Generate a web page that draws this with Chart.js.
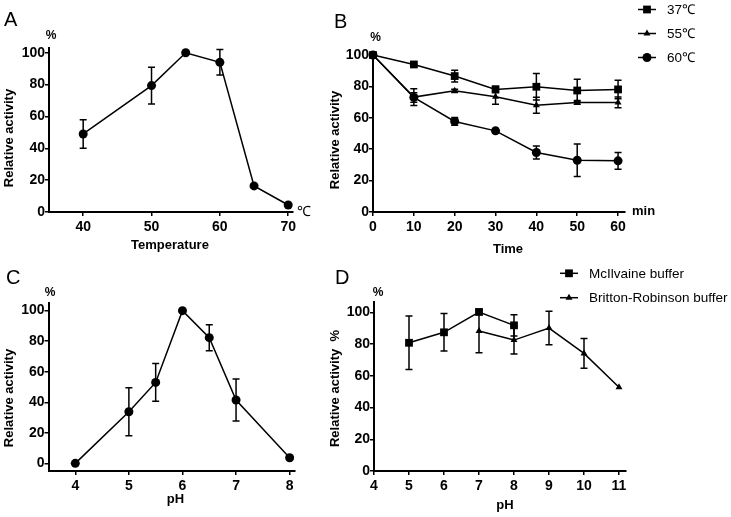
<!DOCTYPE html>
<html lang="en">
<head>
<meta charset="UTF-8">
<title>Relative activity</title>
<script src="https://cdn.jsdelivr.net/npm/chart.js"></script>
<style>
  body { margin: 0; background: #fff; }
  #wrap { position: relative; width: 731px; height: 517px; }
  canvas { position: absolute; }
</style>
</head>
<body>
<div id="wrap">
  <canvas id="chartA" width="320" height="258" style="left:0;top:0"></canvas>
  <canvas id="chartB" width="411" height="258" style="left:320px;top:0"></canvas>
  <canvas id="chartC" width="320" height="259" style="left:0;top:258px"></canvas>
  <canvas id="chartD" width="411" height="259" style="left:320px;top:258px"></canvas>
</div>
<script>
// A: temperature optimum
const tempA = [40, 50, 55, 60, 65, 70];
const actA = [49, 79.4, 100, 94, 16.4, 4.4];
const errA = [9, 11.5, 0, 8, 0, 0];
const tempTicks = [40, 50, 60, 70];

// B: thermostability over time
const timeB = [0, 10, 20, 30, 40, 50, 60];
const act37 = [100, 94, 86.6, 78.1, 79.8, 77.4, 78.1];
const err37 = [0, 1.5, 3.7, 2, 8.5, 7.2, 5.9];
const act55 = [100, 73.2, 77.2, 73.4, 68, 69.8, 69.8];
const err55 = [0, 5.3, 1, 4.8, 5.1, 1.2, 3.4];
const act60 = [100, 73, 57.7, 51.7, 37.9, 33, 32.6];
const err60 = [0, 3, 2.5, 1.5, 4.2, 10.4, 5.3];
const timeTicks = [0, 10, 20, 30, 40, 50, 60];

// C: pH optimum
const phC = [4, 5, 5.5, 6, 6.5, 7, 8];
const actC = [0, 33.8, 53, 100, 82.3, 41.5, 3.7];
const errC = [0, 15.7, 12.4, 0, 8.5, 13.7, 0];
const phTicksC = [4, 5, 6, 7, 8];

// D: pH stability in two buffers
const phMc = [5, 6, 7, 8];
const actMc = [80.8, 87.4, 100.2, 91.8];
const errMc = [16.8, 11.8, 1, 6.7];
const phBR = [7, 8, 9, 10, 11];
const actBR = [88.2, 82.5, 90.1, 74.1, 52.8];
const errBR = [13.7, 8.8, 10.6, 9.4, 0];
const phTicksD = [4, 5, 6, 7, 8, 9, 10, 11];

const pctTicks = [0, 20, 40, 60, 80, 100];

const FONT = '"Liberation Sans", Arial, sans-serif';
const BOLD13 = 'bold 13px ' + FONT;

function drawMarker(ctx, style, r, x, y) {
  if (Chart.helpers && Chart.helpers.drawPoint) {
    Chart.helpers.drawPoint(ctx, { pointStyle: style, radius: r, rotation: 0, borderWidth: 0 }, x, y);
    return;
  }
  ctx.beginPath();
  ctx.arc(x, y, r, 0, Math.PI * 2);
  ctx.fill();
}

const errorBars = {
  id: 'errorBars',
  beforeDatasetsDraw(chart) {
    const ctx = chart.ctx, xs = chart.scales.x, ys = chart.scales.y;
    ctx.save();
    ctx.strokeStyle = '#000';
    ctx.lineWidth = 1.5;
    chart.data.datasets.forEach(ds => {
      if (!ds.errors) return;
      ds.data.forEach((p, i) => {
        const e = ds.errors[i];
        if (!e) return;
        const px = xs.getPixelForValue(p.x);
        const top = ys.getPixelForValue(p.y + e);
        const bot = ys.getPixelForValue(p.y - e);
        ctx.beginPath();
        ctx.moveTo(px, top); ctx.lineTo(px, bot);
        ctx.moveTo(px - 3.5, top); ctx.lineTo(px + 3.5, top);
        ctx.moveTo(px - 3.5, bot); ctx.lineTo(px + 3.5, bot);
        ctx.stroke();
      });
    });
    ctx.restore();
  }
};

const panelText = {
  id: 'panelText',
  afterDraw(chart, args, opts) {
    const ctx = chart.ctx;
    (opts.items || []).forEach(t => {
      ctx.save();
      ctx.font = t.font;
      ctx.fillStyle = '#000';
      ctx.textAlign = t.align || 'center';
      ctx.textBaseline = t.baseline || 'middle';
      ctx.translate(t.x, t.y);
      if (t.rotate) ctx.rotate(t.rotate);
      ctx.fillText(t.text, 0, 0);
      ctx.restore();
    });
    const lg = opts.legend;
    if (lg) {
      chart.data.datasets.forEach((ds, i) => {
        const y = lg.y + i * lg.dy;
        ctx.save();
        ctx.strokeStyle = '#000';
        ctx.fillStyle = '#000';
        ctx.lineWidth = 1.5;
        ctx.beginPath();
        ctx.moveTo(lg.x, y); ctx.lineTo(lg.x + 18, y);
        ctx.stroke();
        drawMarker(ctx, ds.pointStyle, ds.pointRadius, lg.x + 9, y);
        ctx.font = '13.5px ' + FONT;
        ctx.textAlign = 'left';
        ctx.textBaseline = 'middle';
        ctx.fillText(ds.label, lg.x + 29, y + 0.5);
        ctx.restore();
      });
    }
  }
};

function axis(pos, range, tickVals, size) {
  return {
    type: 'linear',
    position: pos,
    min: range[0],
    max: range[1],
    grid: { drawOnChartArea: false, color: '#000', lineWidth: 1.5, tickLength: 4 },
    border: { color: '#000', width: 2 },
    ticks: {
      color: '#000',
      font: { family: FONT, size: 14, weight: 'bold' },
      padding: pos === 'left' ? 0 : 3,
      autoSkip: false,
      maxRotation: 0
    },
    afterBuildTicks: s => { s.ticks = tickVals.map(v => ({ value: v })); },
    afterFit: s => { if (pos === 'left') s.width = size; else s.height = size; }
  };
}

function series(label, xs, ys, errs, style, r) {
  return {
    label: label,
    data: xs.map((x, i) => ({ x: x, y: ys[i] })),
    errors: errs,
    showLine: true,
    borderColor: '#000',
    backgroundColor: '#000',
    borderWidth: 1.5,
    pointStyle: style,
    pointRadius: r,
    pointBorderWidth: 0,
    pointHoverRadius: r,
    clip: false
  };
}

function makeChart(id, datasets, xr, xt, yr, yw, pad, texts, legend) {
  new Chart(document.getElementById(id), {
    type: 'scatter',
    data: { datasets: datasets },
    options: {
      responsive: false,
      animation: false,
      layout: { padding: { left: 0, top: pad.top, right: pad.right, bottom: 0 } },
      scales: {
        x: axis('bottom', xr, xt, pad.xh),
        y: axis('left', yr, pctTicks, yw)
      },
      plugins: {
        legend: { display: false },
        tooltip: { enabled: false },
        panelText: { items: texts, legend: legend }
      }
    },
    plugins: [errorBars, panelText]
  });
}

makeChart('chartA',
  [series('A', tempA, actA, errA, 'circle', 4.5)],
  [35, 70.7], tempTicks, [0, 103], 49, { top: 48, right: 27, xh: 46 },
  [
    { text: 'A', x: 4, y: 25.5, font: '20px ' + FONT, align: 'left', baseline: 'alphabetic' },
    { text: '%', x: 51, y: 36, font: 'bold 12px ' + FONT },
    { text: '℃', x: 297, y: 212, font: '14px ' + FONT, align: 'left' },
    { text: 'Relative activity', x: 9.5, y: 138, font: BOLD13, rotate: -Math.PI / 2 },
    { text: 'Temperature', x: 170, y: 245, font: BOLD13 }
  ]);

makeChart('chartB',
  [
    series('37℃', timeB, act37, err37, 'rect', 5.5),
    series('55℃', timeB, act55, err55, 'triangle', 4),
    series('60℃', timeB, act60, err60, 'circle', 4.5)
  ],
  [0, 61.7], timeTicks, [0, 101.3], 53, { top: 53, right: 106, xh: 46 },
  [
    { text: 'B', x: 14, y: 28.3, font: '20px ' + FONT, align: 'left', baseline: 'alphabetic' },
    { text: '%', x: 55.5, y: 38, font: 'bold 12px ' + FONT },
    { text: 'min', x: 312, y: 211, font: BOLD13, align: 'left' },
    { text: 'Relative activity', x: 15, y: 140, font: BOLD13, rotate: -Math.PI / 2 },
    { text: 'Time', x: 188, y: 249.5, font: BOLD13 }
  ],
  { x: 318, y: 9.5, dy: 24 });

makeChart('chartC',
  [series('C', phC, actC, errC, 'circle', 4.5)],
  [3.5, 8.1], phTicksC, [-5, 105], 48.5, { top: 45, right: 25, xh: 46 },
  [
    { text: 'C', x: 6, y: 26, font: '20px ' + FONT, align: 'left', baseline: 'alphabetic' },
    { text: '%', x: 50, y: 35, font: 'bold 12px ' + FONT },
    { text: 'Relative activity', x: 9, y: 140, font: BOLD13, rotate: -Math.PI / 2 },
    { text: 'pH', x: 175.5, y: 241, font: BOLD13 }
  ]);

makeChart('chartD',
  [
    series('McIlvaine buffer', phMc, actMc, errMc, 'rect', 5.5),
    series('Britton-Robinson buffer', phBR, actBR, errBR, 'triangle', 4)
  ],
  [4, 11.2], phTicksD, [0, 106.5], 54, { top: 44, right: 105, xh: 46 },
  [
    { text: 'D', x: 15, y: 26, font: '20px ' + FONT, align: 'left', baseline: 'alphabetic' },
    { text: '%', x: 58, y: 34.5, font: 'bold 12px ' + FONT },
    { text: 'Relative activity  %', x: 15, y: 130.5, font: BOLD13, rotate: -Math.PI / 2 },
    { text: 'pH', x: 185, y: 247.5, font: BOLD13 }
  ],
  { x: 240, y: 15.3, dy: 24.4 });
</script>
</body>
</html>
